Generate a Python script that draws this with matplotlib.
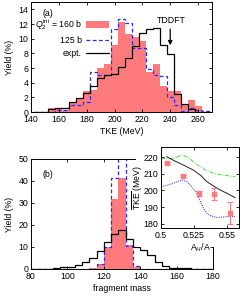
import numpy as np
import matplotlib
matplotlib.use("Agg")
import matplotlib.pyplot as plt
from matplotlib.patches import Rectangle

plt.rcParams['font.family'] = ['Liberation Sans', 'DejaVu Sans']
plt.rcParams['mathtext.fontset'] = 'custom'
plt.rcParams['mathtext.rm'] = 'Liberation Sans'
plt.rcParams['mathtext.it'] = 'Liberation Sans:italic'
FS = 6.3

# ---------------- data: panel (a) TKE distributions ----------------
tke_centers = [145, 150, 155, 160, 165, 170, 175, 180, 185, 190, 195, 200, 205,
               210, 215, 220, 225, 230, 235, 240, 245, 250, 255, 260, 265, 270]
tke_160b = [0, 0, 0.5, 0.6, 0.3, 1.2, 1.8, 2.8, 3.0, 6.0, 6.5, 9.2, 12.3,
            10.7, 10.2, 9.7, 5.4, 6.6, 3.5, 2.8, 2.8, 1.0, 1.7, 0.8, 0, 0]
tke_125b = [0, 0, 0, 0.3, 0.3, 1.0, 1.0, 1.3, 5.5, 5.0, 5.0, 11.3, 12.7,
            12.2, 8.7, 8.7, 5.9, 5.0, 4.9, 2.0, 1.0, 0.2, 0.6, 0.3, 0.2, 0.2]
tke_expt = [0, 0, 0.4, 0.5, 0.6, 1.3, 1.9, 2.6, 3.5, 4.7, 5.0, 5.2, 6.1,
            7.4, 9.0, 10.8, 11.3, 11.5, 9.1, 7.9, 2.4, 1.1, 0.4, 0, 0, 0]
tke_bin = 5
tddft_tke = 240

# ---------------- data: panel (b) mass distributions ----------------
mass_centers = [82, 86, 90, 94, 98, 102, 106, 110, 114, 118, 122, 126, 130,
                134, 138, 142, 146, 150, 154, 158, 162, 166, 170, 174, 178]
mass_160b = [0, 0, 0, 0, 0, 0, 0, 0, 0.5, 2.5, 10.0, 32.0, 41.5,
             11.0, 1.0, 0, 0, 0, 0, 0, 0, 0, 0, 0, 0]
mass_125b = [0, 0, 0, 0, 0, 0, 0, 0, 0, 2.5, 10.0, 41.5, 55.0,
             10.5, 1.5, 0, 0, 0, 0, 0, 0, 0, 0, 0, 0]
mass_expt = [0, 0.2, 0, 0.3, 0.8, 1.0, 1.8, 3.0, 4.8, 8.0, 12.5, 16.0, 17.7,
             13.5, 10.0, 8.6, 6.4, 3.3, 1.4, 0.6, 0.6, 0.3, 0, 0, 0]
mass_bin = 4

# ---------------- data: inset mean TKE vs A_H/A ----------------
ah_black = [0.5043, 0.5100, 0.5169, 0.5245, 0.5300, 0.5346, 0.5400, 0.5447, 0.5500, 0.5560]
tke_black = [220.2, 217.8, 215.2, 212.2, 209.0, 205.3, 202.5, 200.3, 198.2, 195.7]
ah_green = [0.5000, 0.5050, 0.5093, 0.5130, 0.5157, 0.5195, 0.5240, 0.5295, 0.5340,
            0.5396, 0.5450, 0.5497, 0.5560]
tke_green = [219.2, 218.9, 219.2, 220.3, 221.2, 220.2, 217.5, 214.2, 212.0,
             210.3, 209.4, 208.9, 208.2]
ah_blue = [0.5000, 0.5050, 0.5093, 0.5130, 0.5157, 0.5195, 0.5235, 0.5270, 0.5300,
           0.5320, 0.5345, 0.5371, 0.5400, 0.5422, 0.5460, 0.5497, 0.5560]
tke_blue = [202.3, 203.2, 204.3, 205.5, 206.3, 205.3, 202.0, 198.3, 193.0,
            189.4, 186.5, 185.0, 184.2, 183.8, 184.0, 184.4, 184.4]
ah_pts = [0.5048, 0.5169, 0.5290, 0.5404, 0.5523]
tke_pts = [216.2, 208.8, 198.3, 197.7, 186.4]
tke_err = [0.6, 0.6, 1.4, 3.7, 6.6]

RED = '#ff7b7b'
BLUE = '#2a2aff'
GREEN = '#44dd33'
BLUE2 = '#4a4aff'


def edges(centers, w):
    c = np.asarray(centers, float)
    return np.append(c - w / 2, c[-1] + w / 2)


def style(ax):
    ax.tick_params(direction='in', top=True, right=True, length=2.5, width=0.6,
                   labelsize=FS, pad=2)
    for s in ax.spines.values():
        s.set_linewidth(0.7)


fig = plt.figure(figsize=(2.4, 3.0), dpi=100)

# ---------- panel (a) ----------
axa = fig.add_axes([31 / 240, 1 - 112 / 300, 181 / 240, 110 / 300])
e = edges(tke_centers, tke_bin)
axa.stairs(tke_160b, e, fill=True, color=RED, lw=0, label=r'$Q_2^{\rm ini}$ = 160 b')
axa.stairs(tke_125b, e, color=BLUE, lw=0.9, ls=(0, (3, 2)), label='125 b')
axa.stairs(tke_expt, e, color='black', lw=0.9, label='expt.')
axa.set_xlim(140, 270)
axa.set_ylim(0, 15)
axa.set_xticks(np.arange(140, 261, 20))
axa.set_yticks(np.arange(0, 15, 2))
style(axa)
axa.set_xlabel('TKE (MeV)', fontsize=FS, labelpad=2)
axa.set_ylabel('Yield (%)', fontsize=FS, labelpad=3)
axa.text(0.065, 0.9, '(a)', transform=axa.transAxes, fontsize=FS, va='center')
axa.annotate('', xy=(tddft_tke, 9.1), xytext=(tddft_tke, 11.3),
             arrowprops=dict(arrowstyle='-|>', color='black', lw=0.9,
                             mutation_scale=6, shrinkA=0, shrinkB=0))
axa.text(tddft_tke + 1, 11.9, 'TDDFT', fontsize=FS, ha='center', va='bottom')
leg = axa.legend(loc='upper left', bbox_to_anchor=(0.02, 0.86), frameon=False,
                 markerfirst=False, fontsize=FS, handlelength=2.6, handleheight=0.9,
                 labelspacing=0.45, handletextpad=0.5, borderaxespad=0, borderpad=0)

# ---------- panel (b) ----------
axb = fig.add_axes([31 / 240, 1 - 269 / 300, 182 / 240, 110 / 300])
e = edges(mass_centers, mass_bin)
axb.stairs(mass_160b, e, fill=True, color=RED, lw=0)
axb.stairs(mass_125b, e, color=BLUE, lw=0.9, ls=(0, (3, 2)))
axb.stairs(mass_expt, e, color='black', lw=0.9)
axb.set_xlim(80, 180)
axb.set_ylim(0, 50)
axb.set_xticks(np.arange(80, 181, 20))
axb.set_yticks(np.arange(0, 51, 10))
style(axb)
axb.set_xlabel('fragment mass', fontsize=FS, labelpad=2)
axb.set_ylabel('Yield (%)', fontsize=FS, labelpad=3)
axb.text(0.065, 0.86, '(b)', transform=axb.transAxes, fontsize=FS, va='center')

# white background behind inset
fig.patches.append(Rectangle((136 / 240, 1 - 247 / 300), 104 / 240, 102 / 300,
                             transform=fig.transFigure, facecolor='white',
                             edgecolor='none', zorder=2))

# ---------- inset ----------
axi = fig.add_axes([161 / 240, 1 - 228 / 300, 78 / 240, 81 / 300], zorder=3)
axi.plot(ah_green, tke_green, color=GREEN, lw=0.7, ls=(0, (4, 1.5, 1, 1.5)))
axi.plot(ah_blue, tke_blue, color=BLUE2, lw=0.8, ls=(0, (1, 1)))
axi.plot(ah_black, tke_black, color='#222222', lw=0.7)
axi.errorbar(ah_pts, tke_pts, yerr=tke_err, fmt='s', ms=2.6, color=RED,
             mec=RED, mfc=RED, ecolor=RED, elinewidth=0.8, capsize=2, capthick=0.8)
axi.set_xlim(0.5, 0.559)
axi.set_ylim(177.5, 226)
axi.set_xticks([0.5, 0.525, 0.55])
axi.set_xticklabels(['0.5', '0.525', '0.55'])
axi.set_yticks([180, 190, 200, 210, 220])
style(axi)
axi.set_ylabel(r'$\overline{\mathrm{TKE}}$ (MeV)', fontsize=FS, labelpad=-1)
axi.set_xlabel(r'A$_H$/A', fontsize=FS, labelpad=1)

fig.savefig('out.png', dpi=100)
